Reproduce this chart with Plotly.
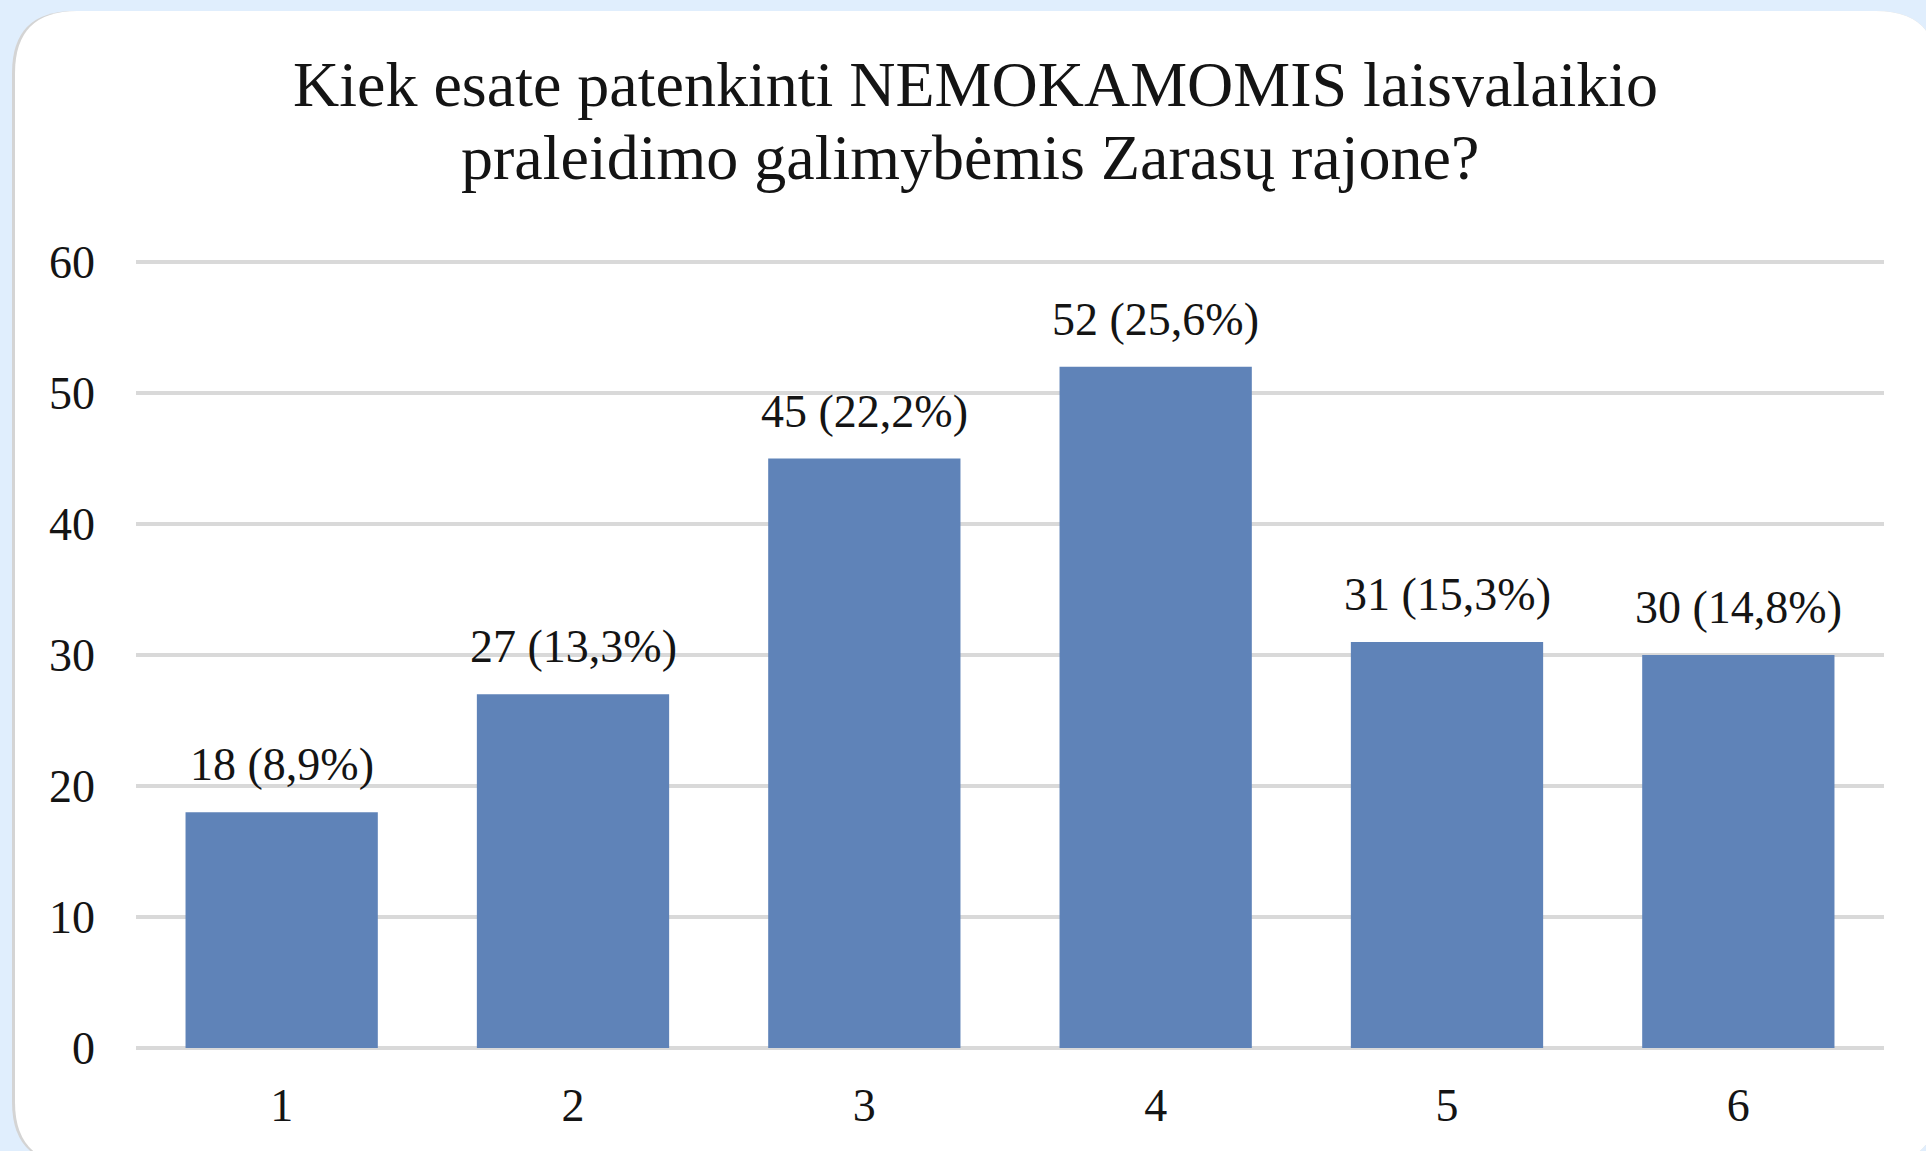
import plotly.graph_objects as go

# duomenys
kategorijos = ["1", "2", "3", "4", "5", "6"]
atsakymai = [18, 27, 45, 52, 31, 30]
procentai = ["8,9", "13,3", "22,2", "25,6", "15,3", "14,8"]
y_ticks = [0, 10, 20, 30, 40, 50, 60]
antraste = ["Kiek esate patenkinti NEMOKAMOMIS laisvalaikio",
            "praleidimo galimybėmis Zarasų rajone?"]

W, H = 1926, 1151
L, R, T, B = 136, 42, 260, 103
pw, ph = W - L - R, H - T - B
sriftas = "Liberation Serif, Times New Roman, serif"


def px_x(x):
    return (x - L) / pw


def px_y(y):
    return (H - B - y) / ph


def kortele(x0, y0, x1, y1, r):
    # suapvalintas staciakampis popieriaus koordinatemis
    pts = [
        ("M", x0 + r, y0), ("L", x1 - r, y0), ("Q", x1, y0, x1, y0 + r),
        ("L", x1, y1 - r), ("Q", x1, y1, x1 - r, y1), ("L", x0 + r, y1),
        ("Q", x0, y1, x0, y1 - r), ("L", x0, y0 + r), ("Q", x0, y0, x0 + r, y0),
    ]
    s = ""
    for p in pts:
        if p[0] == "Q":
            s += "Q%f,%f %f,%f " % (px_x(p[1]), px_y(p[2]), px_x(p[3]), px_y(p[4]))
        else:
            s += "%s%f,%f " % (p[0], px_x(p[1]), px_y(p[2]))
    return s + "Z"


fig = go.Figure()
fig.add_trace(go.Bar(
    x=kategorijos, y=atsakymai,
    marker=dict(color="#5f83b8", line=dict(width=0)),
    hoverinfo="x+y",
))

# kategoriju asyje anotacijos dedamos pagal indeksa
for i, (v, p) in enumerate(zip(atsakymai, procentai)):
    fig.add_annotation(x=i, y=v, text="%d (%s%%)" % (v, p), showarrow=False,
                       yanchor="bottom", yshift=20,
                       font=dict(family=sriftas, size=46, color="#141414"))

fig.add_annotation(xref="paper", yref="paper", x=px_x(975), y=px_y(84),
                   text=antraste[0], showarrow=False, yanchor="middle",
                   font=dict(family=sriftas, size=64, color="#141414"))
fig.add_annotation(xref="paper", yref="paper", x=px_x(970), y=px_y(158),
                   text=antraste[1], showarrow=False, yanchor="middle",
                   font=dict(family=sriftas, size=64, color="#141414"))

fig.add_shape(type="path", xref="paper", yref="paper", layer="below",
              path=kortele(12, 11, 1938, 1164, 62),
              fillcolor="#d4d4d4", line=dict(width=0))
fig.add_shape(type="path", xref="paper", yref="paper", layer="below",
              path=kortele(15, 11, 1938, 1164, 62),
              fillcolor="white", line=dict(width=0))

fig.update_layout(
    width=W, height=H,
    margin=dict(l=L, r=R, t=T, b=B, autoexpand=False),
    paper_bgcolor="#e0eefd",
    plot_bgcolor="rgba(0,0,0,0)",
    bargap=0.34,
    showlegend=False,
    font=dict(family=sriftas, size=46, color="#141414"),
)
fig.update_xaxes(type="category", range=[-0.5, 5.5], showgrid=False, showline=False,
                 ticks="", ticklabelstandoff=26, tickfont=dict(size=46))
fig.update_yaxes(range=[0, 60 + 2 / 13.1], tickvals=y_ticks, showgrid=True,
                 gridcolor="#d9d9d9", gridwidth=4, zeroline=True,
                 zerolinecolor="#d9d9d9", zerolinewidth=4,
                 showline=False, ticks="", ticklabelstandoff=40,
                 tickfont=dict(size=46))

fig.write_html("out.html", config={"displayModeBar": False},
               post_script="document.body.style.margin='0';"
               "document.body.style.background='#e0eefd';")
